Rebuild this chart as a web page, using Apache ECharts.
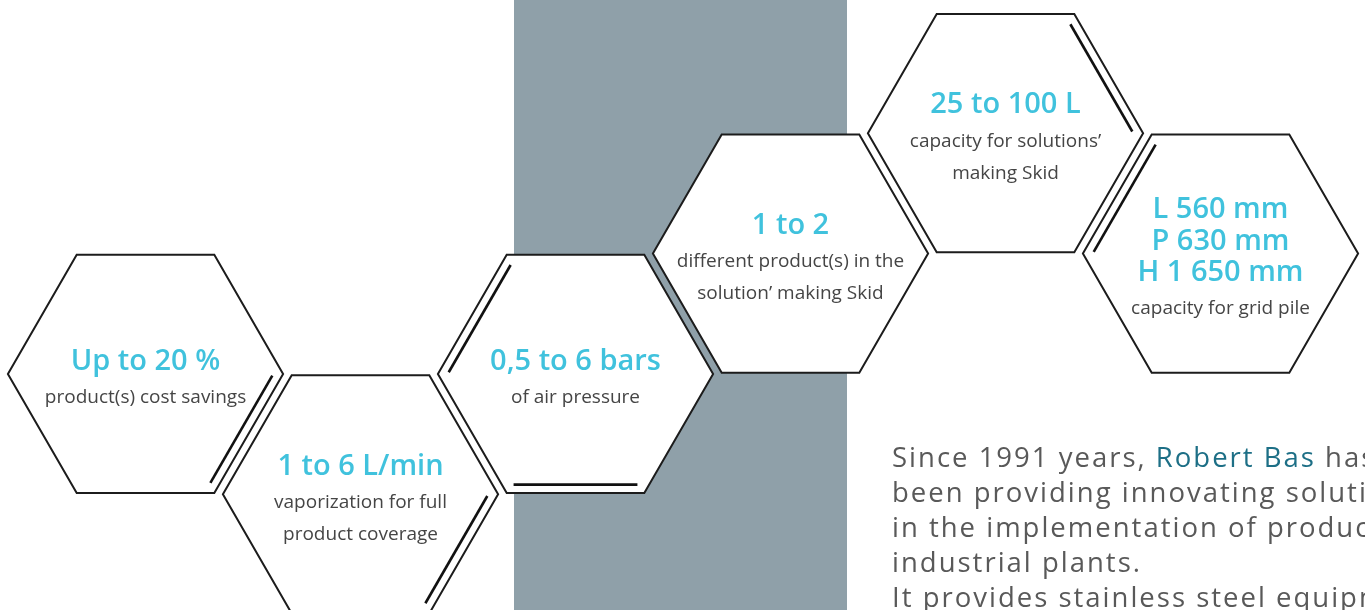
<!DOCTYPE html>
<html><head><meta charset="utf-8">
<script src="https://cdn.jsdelivr.net/npm/echarts@6/dist/echarts.min.js"></script>
<style>html,body{margin:0;padding:0;background:#fff;overflow:hidden}#c{width:1365px;height:610px}</style>
</head><body><div id="c"></div>
<script>
// ---- data ----
const columns = [0, 1, 2, 3, 4, 5];
const levels = [0, -1, 0, 1, 2, 1];
const titles = [
  ["Up to 20 %"],
  ["1 to 6 L/min"],
  ["0,5 to 6 bars"],
  ["1 to 2"],
  ["25 to 100 L"],
  ["L 560 mm", "P 630 mm", "H 1 650 mm"]
];
const subtitles = [
  ["product(s) cost savings"],
  ["vaporization for full", "product coverage"],
  ["of air pressure"],
  ["different product(s) in the", "solution\u2019 making Skid"],
  ["capacity for solutions\u2019", "making Skid"],
  ["capacity for grid pile"]
];
const paragraphLines = [
  "Since 1991 years, {b|Robert Bas} has",
  "been providing innovating solutions",
  "in the implementation of products",
  "industrial plants.",
  "It provides stainless steel equipment"
];
// decorative accent edges (style): edge k joins vertex k to k+1 (0 = right vertex, clockwise)
const accentEdges = [[0], [0], [3, 1], [], [5], [3]];

// letter spacing for the paragraph font (tagged with a pseudo family "paraspaced")
(function () {
  const proto = CanvasRenderingContext2D.prototype;
  const desc = Object.getOwnPropertyDescriptor(proto, 'font');
  if (!desc || !('letterSpacing' in proto)) return;
  Object.defineProperty(proto, 'font', {
    configurable: true,
    get() { return desc.get.call(this); },
    set(v) {
      desc.set.call(this, v);
      this.letterSpacing = /paraspaced/.test(v) ? '2px' : '0px';
    }
  });
})();

const FONT = '"Open Sans", "Noto Sans", sans-serif';
const PFONT = 'paraspaced, "Open Sans", "Noto Sans", sans-serif';
const CYAN = '#40c2dd';
const GREY = '#454545';

const chart = echarts.init(document.getElementById('c'));

function renderItem(params, api) {
  const i = params.dataIndex;
  const c = api.coord([api.value(0), api.value(1)]);
  const unit = api.size([1, 0])[0];
  const R = unit * 0.64;
  const h = R * Math.sqrt(3) / 2;
  const pts = [
    [c[0] + R, c[1]], [c[0] + R / 2, c[1] + h], [c[0] - R / 2, c[1] + h],
    [c[0] - R, c[1]], [c[0] - R / 2, c[1] - h], [c[0] + R / 2, c[1] - h]
  ];
  const children = [{
    type: 'polygon', shape: { points: pts },
    style: { fill: '#fff', stroke: '#1c1c1c', lineWidth: 2 }
  }];
  accentEdges[i].forEach(k => {
    const a = pts[k], b = pts[(k + 1) % 6];
    const mx = (a[0] + b[0]) / 2, my = (a[1] + b[1]) / 2;
    let nx = c[0] - mx, ny = c[1] - my;
    const nl = Math.hypot(nx, ny); nx /= nl; ny /= nl;
    const d = 8.5, s = 0.05;
    children.push({
      type: 'line',
      shape: {
        x1: a[0] + (b[0] - a[0]) * s + nx * d, y1: a[1] + (b[1] - a[1]) * s + ny * d,
        x2: b[0] + (a[0] - b[0]) * s + nx * d, y2: b[1] + (a[1] - b[1]) * s + ny * d
      },
      style: { stroke: '#111', lineWidth: 2.6 }
    });
  });
  const tl = titles[i], sl = subtitles[i];
  const span = (tl.length - 1) * 31.5 + 36 + (sl.length - 1) * 32;
  let y = c[1] + 6 - span / 2;
  tl.forEach((t, j) => {
    children.push({
      type: 'text',
      style: { text: t, x: c[0], y: y + j * 31.5, align: 'center', verticalAlign: 'middle',
        fontFamily: FONT, fontWeight: 600, fontSize: 29, fill: CYAN }
    });
  });
  const ys = y + (tl.length - 1) * 31.5 + 36;
  sl.forEach((t, j) => {
    children.push({
      type: 'text',
      style: { text: t, x: c[0], y: ys + j * 32, align: 'center', verticalAlign: 'middle',
        fontFamily: FONT, fontSize: 19, fill: GREY }
    });
  });
  return { type: 'group', children };
}

chart.setOption({
  animation: false,
  backgroundColor: '#fff',
  grid: { left: 38, right: 37, top: 73, bottom: 55.5 },
  xAxis: { type: 'value', min: -0.5, max: 5.5, show: false },
  yAxis: { type: 'value', min: -1.5, max: 2.5, show: false },
  graphic: [
    { type: 'rect', z: -10, silent: true,
      shape: { x: 514, y: 0, width: 333, height: 610 },
      style: { fill: '#8fa0a9' } },
    { type: 'text', z: 100, silent: true,
      style: {
        text: paragraphLines.join('\n'), x: 892, y: 441.5, verticalAlign: 'top',
        fontFamily: PFONT, fontSize: 27.5, lineHeight: 35, fill: '#595959',
        rich: { b: { fill: '#1d6f86', fontFamily: PFONT, fontSize: 27.5, lineHeight: 35 } }
      } }
  ],
  series: [{
    type: 'custom',
    coordinateSystem: 'cartesian2d',
    clip: false,
    renderItem: renderItem,
    data: columns.map((x, i) => [x, levels[i]])
  }]
});
</script></body></html>
